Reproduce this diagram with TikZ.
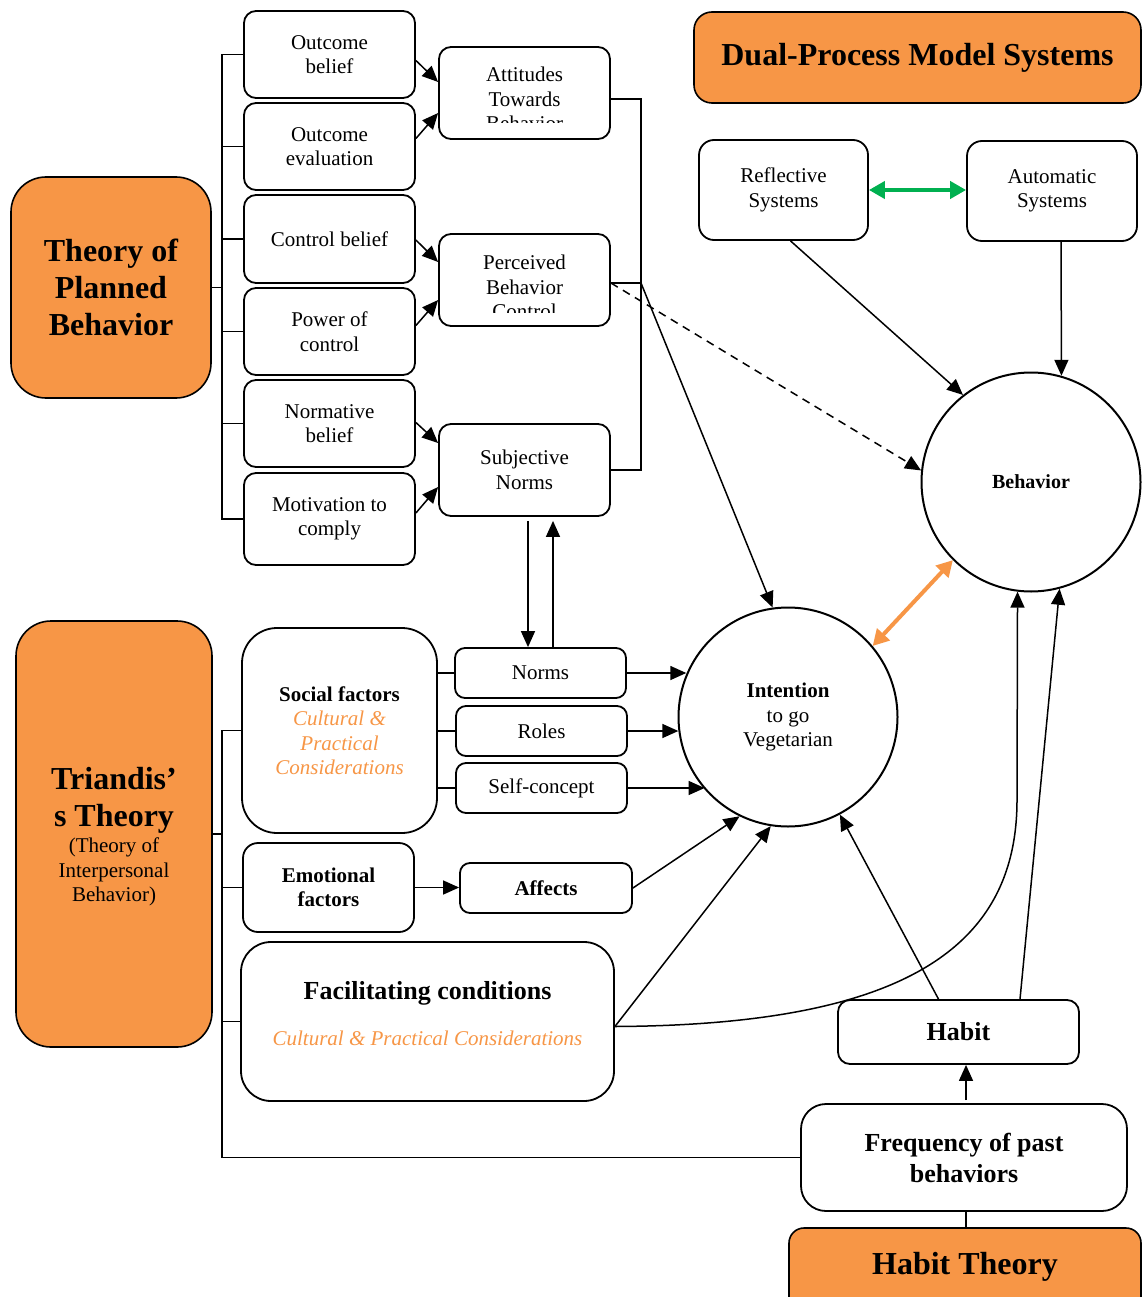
\documentclass[tikz,border=0pt]{standalone}
\usepackage{fontspec}
\setmainfont{Liberation Serif}
\usetikzlibrary{arrows.meta,calc}
\definecolor{org}{HTML}{F79646}
\definecolor{grn}{HTML}{00B050}
\begin{document}
\begin{tikzpicture}[x=1pt,y=-1pt,
  txt/.style={font=\fontsize{21}{24.5}\selectfont, align=center},
  bigb/.style={font=\fontsize{26}{31}\selectfont\bfseries, align=center},
  box/.style={draw, line width=1.8pt, rounded corners=12pt, inner sep=0pt, txt, fill=white},
  theory/.style={draw, line width=1.6pt, fill=org, inner sep=0pt, font=\fontsize{32}{37}\selectfont\bfseries, align=center},
  circ/.style={draw, circle, line width=2pt, inner sep=0pt, txt, minimum size=219pt},
  ln/.style={line width=1.5pt},
  arr/.style={ln, -{Triangle[length=16pt,width=14pt]}},
  dbl/.style={{Triangle[length=16pt,width=17pt]}-{Triangle[length=16pt,width=17pt]}},
  otxt/.style={text=org, font=\fontsize{21}{24.5}\selectfont\itshape}
]
\useasboundingbox (0,0) rectangle (1144,1297);
\clip (0,0) rectangle (1144,1297);
\fill[white] (0,0) rectangle (1144,1297);

% ---------- Theory of Planned Behavior ----------
\node[theory, minimum width=200pt, minimum height=221pt, rounded corners=35pt] (tpb) at (111,287.5) {Theory of\\Planned\\Behavior};

\node[box, minimum width=171pt, minimum height=87pt] (ob) at (329.5,54.5) {Outcome\\belief};
\node[box, minimum width=171pt, minimum height=87pt] (oe) at (329.5,146.5) {Outcome\\evaluation};
\node[box, minimum width=171pt, minimum height=88pt] (cb) at (329.5,239) {Control belief};
\node[box, minimum width=171pt, minimum height=87pt] (poc) at (329.5,331.5) {Power of\\control};
\node[box, minimum width=171pt, minimum height=87pt] (nb) at (329.5,423.5) {Normative\\belief};
\node[box, minimum width=171pt, minimum height=92pt] (mc) at (329.5,519) {Motivation to\\comply};

\node[box, minimum width=171pt, minimum height=92pt] (att) at (524.5,93) {};
\begin{scope}
  \clip (441,49) rectangle (608,123);
  \node[txt] (attT) at (524.5,99) {Attitudes\\Towards\\Behavior};
\end{scope}
\node[box, minimum width=171pt, minimum height=92pt] (pbc) at (524.5,280) {};
\begin{scope}
  \clip (441,236) rectangle (608,312);
  \node[txt] (pbcT) at (524.5,287) {Perceived\\Behavior\\Control};
\end{scope}
\node[box, minimum width=171pt, minimum height=92pt] (sn) at (524.5,470) {Subjective\\Norms};

% ---------- Dual-process ----------
\node[theory, minimum width=447pt, minimum height=91pt, rounded corners=18pt] (dual) at (917.5,57.5) {Dual-Process Model Systems};
\node[box, minimum width=169pt, minimum height=100pt, rounded corners=15pt] (ref) at (783.5,190) {Reflective\\Systems};
\node[box, minimum width=170pt, minimum height=100pt, rounded corners=15pt] (auto) at (1052,191) {Automatic\\Systems};

\node[circ] (beh) at (1031,482) {\fontsize{20}{24}\selectfont\bfseries Behavior};
\node[circ] (int) at (788,717) {\textbf{Intention}\\to go\\Vegetarian};

% ---------- Triandis ----------
\node[theory, minimum width=196pt, minimum height=426pt, rounded corners=35pt] (tri) at (114,834) {};
\node[font=\fontsize{32}{37}\selectfont\bfseries, align=center] (triT) at (114,800) {Triandis'\\s Theory};
\node[txt] (triS) at (114,872) {(Theory of\\Interpersonal\\Behavior)};

\node[box, minimum width=195pt, minimum height=205pt, rounded corners=35pt] (sf) at (339.5,730.5)
  {\textbf{Social factors}\\\textcolor{org}{\itshape Cultural \&}\\\textcolor{org}{\itshape Practical}\\\textcolor{org}{\itshape Considerations}};
\node[box, minimum width=171pt, minimum height=50pt, rounded corners=10pt] (norms) at (540.5,673) {Norms};
\node[box, minimum width=171pt, minimum height=50pt, rounded corners=10pt] (roles) at (541.5,731) {Roles};
\node[box, minimum width=171pt, minimum height=50pt, rounded corners=10pt] (self) at (541.5,788) {Self-concept};

\node[box, minimum width=171pt, minimum height=89pt, rounded corners=15pt] (ef) at (328.5,887.5) {\textbf{Emotional}\\\textbf{factors}};
\node[box, minimum width=172pt, minimum height=50pt, rounded corners=10pt] (aff) at (546,888) {\textbf{Affects}};

\node[box, minimum width=373pt, minimum height=159pt, rounded corners=30pt] (fc) at (427.5,1021.5) {};
\node[bigb] (fcT) at (427.5,993) {Facilitating conditions};
\node[otxt] (fcS) at (427.5,1038) {Cultural \& Practical Considerations};

% ---------- Habit ----------
\node[box, bigb, minimum width=241pt, minimum height=64pt, rounded corners=12pt] (hab) at (958.5,1032) {Habit};
\node[box, bigb, minimum width=326pt, minimum height=107pt, rounded corners=25pt] (freq) at (964,1157.5) {Frequency of past\\behaviors};
\node[theory, minimum width=352pt, minimum height=104pt, rounded corners=15pt] (ht) at (965,1280) {};
\node[font=\fontsize{32}{37}\selectfont\bfseries] (htT) at (965,1267) {Habit Theory};

% ---------- connectors ----------
\coordinate (tA) at (222,0);
\coordinate (rA) at (641,0);

% TPB bracket
\draw[ln] (ob.west) -- (ob.west -| tA) -- (mc.west -| tA) -- (mc.west);
\foreach \n in {oe,cb,poc,nb} \draw[ln] (\n.west) -- (\n.west -| tA);
\draw[ln] (tpb.east) -- (tpb.east -| tA);

% beliefs to constructs
\draw[arr] ($(ob.east)+(0,6)$) -- ($(att.west)+(0,-11)$);
\draw[arr] ($(oe.east)+(0,-8)$) -- ($(att.west)+(0,20)$);
\draw[arr] ($(cb.east)+(0,1)$) -- ($(pbc.west)+(0,-18)$);
\draw[arr] ($(poc.east)+(0,-6)$) -- ($(pbc.west)+(0,20)$);
\draw[arr] ($(nb.east)+(0,-1)$) -- ($(sn.west)+(0,-27)$);
\draw[arr] ($(mc.east)+(0,-6)$) -- ($(sn.west)+(0,17)$);

% right bracket
\draw[ln] ($(att.east)+(0,6)$) -| (sn.east -| rA) -- (sn.east);
\coordinate (pbcE) at ($(pbc.east)+(0,3)$);
\coordinate (pj) at (pbcE -| rA);
\draw[ln] (pbcE) -- (pj);
\draw[arr] (pj) -- (int.98);
\draw[arr, dash pattern=on 8pt off 6pt] (pbcE) -- (beh.174);

% dual process
\draw[arr] ($(ref.south)+(7,0)$) -- (beh.128);
\draw[arr] ($(auto.south)+(9,0)$) -- (beh.74);
\draw[grn, line width=4.5pt, dbl] (ref.east) -- (ref.east -| auto.west);
\draw[org, line width=4pt, dbl] (int.40) -- (beh.225);

% subjective norms <-> norms
\draw[arr] ($(sn.south)+(3.5,4)$) -- ($(norms.north)+(-12.5,0)$);
\draw[arr] ($(norms.north)+(12.5,0)$) -- ($(sn.south)+(28.5,4)$);

% Triandis bracket
\draw[ln] (sf.west) -- (sf.west -| tA) -- (freq.west -| tA) -- (freq.west);
\draw[ln] (ef.west) -- (ef.west -| tA);
\draw[ln] (fc.west) -- (fc.west -| tA);
\draw[ln] (tri.east) -- (tri.east -| tA);

% social factors
\draw[ln] (norms.west -| sf.east) -- (norms.west);
\draw[ln] (roles.west -| sf.east) -- (roles.west);
\draw[ln] (self.west -| sf.east) -- (self.west);
\draw[arr] (norms.east) -- (norms.east -| int.157);
\draw[arr] (roles.east) -- (roles.east -| int.187);
\draw[arr] (self.east) -- (self.east -| int.221);

\draw[arr] (ef.east) -- (ef.east -| aff.west);
\draw[arr] (aff.east) -- (int.244);
\draw[arr] ($(fc.east)+(0,5)$) -- (int.261);
\draw[arr] ($(fc.east)+(0,5)$) .. controls (900,1025) and (1017,950) .. (1017,800) -- (beh.263);

% habit
\draw[arr] ($(hab.north)+(-20,0)$) -- (int.298);
\draw[arr] ($(hab.north)+(61.5,0)$) -- (beh.285);
\draw[arr] ($(freq.north)+(2,-3)$) -- ($(hab.south)+(7.5,0)$);
\draw[ln] ($(freq.south)+(2,0)$) -- ($(ht.north)+(1,0)$);
\end{tikzpicture}
\end{document}
